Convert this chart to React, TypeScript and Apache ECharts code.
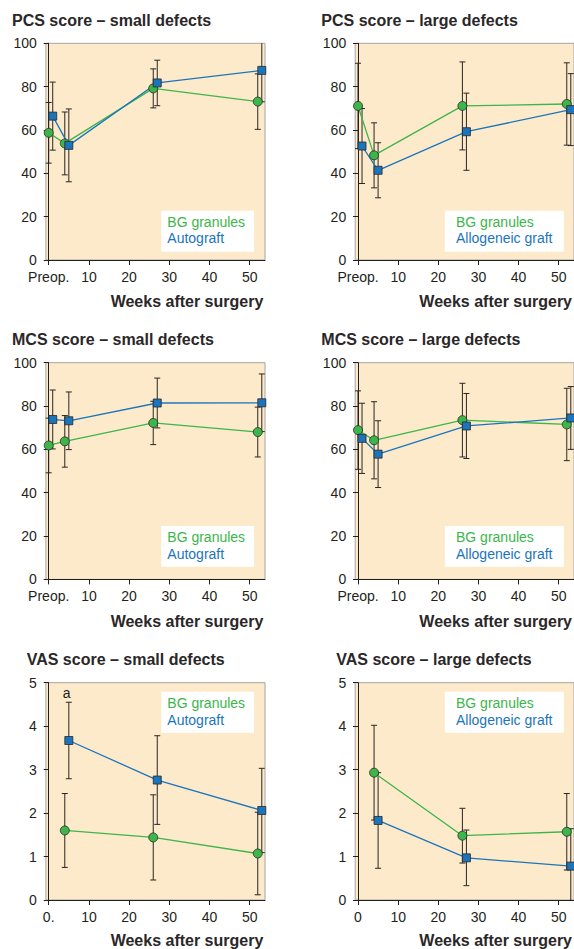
import React, { useEffect, useRef } from "react";
import * as echarts from "echarts";

// ---- data ----
const weeksBG = [0, 4, 26, 52];
const weeksAlt = [1, 5, 27, 53];
const weeksBGVas = [4, 26, 52];
const weeksAltVas = [5, 27, 53];

const xTicks = [0, 10, 20, 30, 40, 50];
const yTicksScore = [0, 20, 40, 60, 80, 100];
const yTicksVas = [0, 1, 2, 3, 4, 5];

const bgPcsSmall = [58.7, 53.8, 79.2, 73.1];
const bgPcsSmallErr = [14, 14.5, 9, 12.8];
const autoPcsSmall = [66.4, 52.9, 81.7, 87.5];
const autoPcsSmallErr = [15.7, 16.8, 10.5, 14.5];

const bgPcsLarge = [71.1, 48.3, 71.1, 72.0];
const bgPcsLargeErr = [19.7, 15, 20.3, 19];
const alloPcsLarge = [52.6, 41.4, 59.2, 69.4];
const alloPcsLargeErr = [17.3, 12.7, 17.8, 16.6];

const bgMcsSmall = [61.8, 63.7, 72.2, 68.0];
const bgMcsSmallErr = [12.6, 11.9, 10, 11.5];
const autoMcsSmall = [73.8, 73.2, 81.4, 81.5];
const autoMcsSmallErr = [13.6, 13.3, 11.5, 13.3];

const bgMcsLarge = [68.9, 64.2, 73.5, 71.5];
const bgMcsLargeErr = [18.1, 17.8, 17, 16.7];
const alloMcsLarge = [65.1, 57.8, 70.8, 74.5];
const alloMcsLargeErr = [16.2, 15.4, 15, 14.5];

const bgVasSmall = [1.6, 1.44, 1.07];
const bgVasSmallErr = [0.85, 0.98, 0.95];
const autoVasSmall = [3.67, 2.76, 2.06];
const autoVasSmallErr = [0.88, 1.02, 0.97];

const bgVasLarge = [2.93, 1.48, 1.57];
const bgVasLargeErr = [1.09, 0.63, 0.88];
const alloVasLarge = [1.83, 0.97, 0.78];
const alloVasLargeErr = [1.1, 0.64, 0.86];

const titles = [
  "PCS score – small defects",
  "PCS score – large defects",
  "MCS score – small defects",
  "MCS score – large defects",
  "VAS score – small defects",
  "VAS score – large defects",
];
const bgName = "BG granules";
const autoName = "Autograft";
const alloName = "Allogeneic graft";
const xAxisTitle = "Weeks after surgery";
const zeroLabels = ["Preop.", "Preop.", "Preop.", "Preop.", "0.", "0"];

const GREEN = "#3cb54a";
const BLUE = "#1b75bc";
const BG = "#fdeacb";
const DARK = "#231f20";
const FONT = "Liberation Sans, Arial, sans-serif";

export default function App() {
  const ref = useRef<HTMLDivElement>(null);
  useEffect(() => {
    document.body.style.margin = "0";
    const chart = echarts.init(ref.current!, null, { renderer: "svg" });

    const panels = [
      { g: [weeksBG, bgPcsSmall, bgPcsSmallErr], a: [weeksAlt, autoPcsSmall, autoPcsSmallErr], altName: autoName, vas: false },
      { g: [weeksBG, bgPcsLarge, bgPcsLargeErr], a: [weeksAlt, alloPcsLarge, alloPcsLargeErr], altName: alloName, vas: false },
      { g: [weeksBG, bgMcsSmall, bgMcsSmallErr], a: [weeksAlt, autoMcsSmall, autoMcsSmallErr], altName: autoName, vas: false },
      { g: [weeksBG, bgMcsLarge, bgMcsLargeErr], a: [weeksAlt, alloMcsLarge, alloMcsLargeErr], altName: alloName, vas: false },
      { g: [weeksBGVas, bgVasSmall, bgVasSmallErr], a: [weeksAltVas, autoVasSmall, autoVasSmallErr], altName: autoName, vas: true },
      { g: [weeksBGVas, bgVasLarge, bgVasLargeErr], a: [weeksAltVas, alloVasLarge, alloVasLargeErr], altName: alloName, vas: true },
    ];

    const colLeft = [45.9, 355.2];
    const rowTop = [43.3, 362.7, 682.7];
    const gridW = 219.1;
    const gridH = [216.7, 216.7, 217.3];

    const grids: any[] = [];
    const xAxes: any[] = [];
    const yAxes: any[] = [];
    const series: any[] = [];
    const graphics: any[] = [];

    const titlePos = [
      [12, 20], [321.3, 20], [12, 339], [321.3, 339], [26.7, 659], [336.3, 659],
    ];
    const axisNamePos = [
      [263.3, 301], [572, 301], [263.3, 621], [572, 621], [263.3, 940], [572, 940],
    ];
    const legendRect = [
      [161.3, 210.7, 92.7, 41], [444.8, 210.7, 119, 41],
      [161.3, 526, 92.7, 40.7], [444.8, 526, 119, 40.7],
      [161.3, 691.7, 92.7, 41], [444.8, 691.7, 119, 41],
    ];
    const legendText = [
      [167.3, 222.3, 238.3], [456, 222.3, 238.3],
      [167.3, 537.3, 554], [456, 537.3, 554],
      [167.3, 703.3, 720], [456, 703.3, 720],
    ];

    const errItem = (params: any, api: any) => {
      const x = api.value(0);
      const lo = api.coord([x, api.value(1)]);
      const hi = api.coord([x, api.value(2)]);
      const hw = 3;
      const st = { stroke: "#2a2623", lineWidth: 1 };
      return {
        type: "group",
        children: [
          { type: "line", shape: { x1: lo[0], y1: lo[1], x2: hi[0], y2: hi[1] }, style: st },
          { type: "line", shape: { x1: lo[0] - hw, y1: lo[1], x2: lo[0] + hw, y2: lo[1] }, style: st },
          { type: "line", shape: { x1: hi[0] - hw, y1: hi[1], x2: hi[0] + hw, y2: hi[1] }, style: st },
        ],
      };
    };

    panels.forEach((p, i) => {
      const col = i % 2;
      const row = Math.floor(i / 2);
      grids.push({
        left: colLeft[col],
        top: rowTop[row],
        width: gridW,
        height: gridH[row],
        show: true,
        backgroundColor: BG,
        borderColor: "#a6a6a6",
        borderWidth: 1,
        containLabel: false,
      });
      xAxes.push({
        type: "value",
        gridIndex: i,
        min: -0.7,
        max: 53.8,
        splitLine: { show: false },
        axisLine: { show: true, onZero: false, lineStyle: { color: DARK, width: 1 } },
        axisTick: { show: true, length: 5, lineStyle: { color: DARK }, customValues: xTicks },
        axisLabel: {
          customValues: xTicks,
          margin: 10,
          fontSize: 14,
          fontWeight: "normal",
          fontFamily: FONT,
          color: DARK,
          formatter: (v: number) => (v === 0 ? zeroLabels[i] : String(v)),
        },
      });
      const yt = p.vas ? yTicksVas : yTicksScore;
      yAxes.push({
        type: "value",
        gridIndex: i,
        min: 0,
        max: p.vas ? 5 : 100,
        interval: p.vas ? 1 : 20,
        splitLine: { show: false },
        axisLine: { show: true, lineStyle: { color: DARK, width: 1 } },
        axisTick: { show: true, length: 5, lineStyle: { color: DARK } },
        axisLabel: {
          margin: 9,
          fontSize: 14,
          fontWeight: "normal",
          fontFamily: FONT,
          color: DARK,
          customValues: yt,
        },
      });

      const groups = [
        { d: p.g, color: GREEN, symbol: "circle", size: 9, name: bgName },
        { d: p.a, color: BLUE, symbol: "rect", size: 8, name: p.altName },
      ];
      groups.forEach((gr) => {
        const xs = gr.d[0] as number[];
        const ys = gr.d[1] as number[];
        const es = gr.d[2] as number[];
        series.push({
          type: "custom",
          xAxisIndex: i,
          yAxisIndex: i,
          clip: true,
          z: 2,
          renderItem: errItem,
          data: xs.map((x, k) => [x, ys[k] - es[k], ys[k] + es[k]]),
          silent: true,
        });
      });
      groups.forEach((gr) => {
        const xs = gr.d[0] as number[];
        const ys = gr.d[1] as number[];
        series.push({
          type: "line",
          name: gr.name,
          xAxisIndex: i,
          yAxisIndex: i,
          z: 3,
          symbol: gr.symbol,
          symbolSize: gr.size,
          showSymbol: true,
          lineStyle: { color: gr.color, width: 1.3 },
          itemStyle: { color: gr.color, borderColor: "#2a2623", borderWidth: 0.8 },
          data: xs.map((x, k) => [x, ys[k]]),
          clip: false,
        });
      });

      graphics.push({
        type: "text",
        x: titlePos[i][0],
        y: titlePos[i][1],
        style: {
          text: titles[i],
          font: `bold 16px ${FONT}`,
          fill: "#2b2728",
          verticalAlign: "middle",
        },
      });
      graphics.push({
        type: "text",
        x: axisNamePos[i][0],
        y: axisNamePos[i][1],
        style: {
          text: xAxisTitle,
          font: `bold 16px ${FONT}`,
          fill: "#2b2728",
          align: "right",
          verticalAlign: "middle",
        },
      });
      const lr = legendRect[i];
      graphics.push({
        type: "rect",
        shape: { x: lr[0], y: lr[1], width: lr[2], height: lr[3] },
        style: { fill: "#ffffff" },
        z: 10,
      });
      const lt = legendText[i];
      graphics.push({
        type: "text",
        x: lt[0],
        y: lt[1],
        z: 11,
        style: { text: bgName, font: `14px ${FONT}`, fill: GREEN, verticalAlign: "middle" },
      });
      graphics.push({
        type: "text",
        x: lt[0],
        y: lt[2],
        z: 11,
        style: { text: p.altName, font: `14px ${FONT}`, fill: BLUE, verticalAlign: "middle" },
      });
    });

    graphics.push({
      type: "text",
      x: 66.7,
      y: 692.7,
      z: 11,
      style: { text: "a", font: `14px ${FONT}`, fill: DARK, align: "center", verticalAlign: "middle" },
    });

    chart.setOption({
      animation: false,
      grid: grids,
      xAxis: xAxes,
      yAxis: yAxes,
      series,
      graphic: graphics,
    });
    return () => chart.dispose();
  }, []);
  return <div ref={ref} style={{ width: 574, height: 949 }} />;
}
